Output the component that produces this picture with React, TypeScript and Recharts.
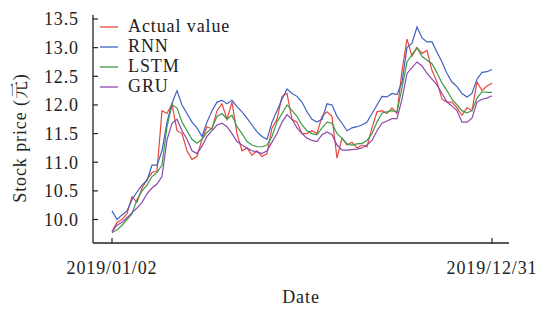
import { LineChart, Line, XAxis, YAxis } from 'recharts';

// one point every ~5 trading-day pixels
const actualValue = [
  9.79, 9.95, 10.0, 10.1, 10.4, 10.3, 10.55, 10.7, 10.82, 10.85,
  11.9, 11.85, 12.02, 11.55, 11.5, 11.2, 11.05, 11.1, 11.4, 11.62,
  11.58, 11.9, 12.02, 11.75, 12.05, 11.5, 11.2, 11.25, 11.12, 11.2,
  11.1, 11.15, 11.6, 11.75, 12.15, 12.2, 11.75, 11.7, 11.5, 11.5,
  11.55, 11.5, 11.8, 11.88, 11.8, 11.07, 11.42, 11.3, 11.35, 11.25,
  11.3, 11.27, 11.6, 11.88, 11.9, 11.85, 11.95, 11.85, 12.6, 13.15,
  12.85, 13.0, 12.9, 12.95, 12.6, 12.4, 12.1, 12.05, 12.05, 11.95,
  11.82, 11.95, 11.9, 12.4, 12.25, 12.33, 12.38,
];
const rnn = [
  10.15, 10.0, 10.08, 10.15, 10.35, 10.48, 10.6, 10.68, 10.95, 10.95,
  11.2, 11.7, 12.03, 12.25, 12.0, 11.85, 11.7, 11.6, 11.45, 11.7,
  11.9, 12.05, 12.08, 12.02, 12.08, 11.97, 11.88, 11.77, 11.65, 11.53,
  11.45, 11.4, 11.7, 11.9, 12.1, 12.28, 12.2, 12.15, 12.05, 11.88,
  11.75, 11.7, 11.75, 12.02, 12.0, 11.8, 11.68, 11.55, 11.6, 11.62,
  11.65, 11.7, 11.85, 12.0, 12.15, 12.14, 12.2, 12.18, 12.4, 13.0,
  13.08, 13.36, 13.17, 13.1, 13.1, 12.92, 12.75, 12.55, 12.4, 12.32,
  12.2, 12.14, 12.2, 12.45, 12.57, 12.58, 12.62,
];
const lstm = [
  9.77, 9.82, 9.9, 10.0, 10.1, 10.35, 10.5, 10.6, 10.75, 10.82,
  10.95, 11.62, 12.0, 11.95, 11.7, 11.55, 11.4, 11.33, 11.4, 11.52,
  11.6, 11.8, 11.85, 11.75, 11.82, 11.62, 11.5, 11.36, 11.3, 11.27,
  11.27, 11.3, 11.45, 11.7, 11.85, 12.0, 11.9, 11.8, 11.65, 11.55,
  11.5, 11.48, 11.6, 11.7, 11.68, 11.5, 11.42, 11.32, 11.3, 11.32,
  11.33, 11.38, 11.5, 11.7, 11.86, 11.88, 11.9, 11.88, 12.3, 12.75,
  12.88, 13.0, 12.85, 12.78, 12.72, 12.56, 12.38, 12.25, 12.1, 12.0,
  11.9, 11.86, 11.9, 12.12, 12.23, 12.22, 12.22,
];
const gru = [
  9.79, 9.9, 9.95, 10.03, 10.12, 10.2, 10.3, 10.45, 10.55, 10.62,
  10.75, 11.39, 11.68, 11.75, 11.55, 11.4, 11.2, 11.15, 11.28, 11.45,
  11.55, 11.65, 11.68, 11.62, 11.5, 11.36, 11.3, 11.25, 11.2, 11.18,
  11.15, 11.2, 11.35, 11.5, 11.7, 11.83, 11.75, 11.6, 11.5, 11.42,
  11.38, 11.36, 11.48, 11.53, 11.48, 11.3, 11.21, 11.21, 11.22, 11.23,
  11.25, 11.3, 11.38, 11.55, 11.68, 11.72, 11.76, 11.76, 12.1, 12.55,
  12.65, 12.75, 12.68, 12.55, 12.45, 12.35, 12.2, 12.05, 11.98, 11.9,
  11.7, 11.7, 11.77, 12.05, 12.1, 12.12, 12.16,
];

const xTicks = [0, 76];
const xTickLabels = ['2019/01/02', '2019/12/31'];
const yTicks = [10.0, 10.5, 11.0, 11.5, 12.0, 12.5, 13.0, 13.5];

const seriesKeys = ['actual', 'rnn', 'lstm', 'gru'];
const seriesNames = ['Actual value', 'RNN', 'LSTM', 'GRU'];
const seriesColors = ['#e8463c', '#4160c0', '#3e9a4a', '#8a48b0'];

const X_DOMAIN: [number, number] = [-3.8, 79.4];
const Y_DOMAIN: [number, number] = [9.59, 13.57];

const FONT = '"Liberation Serif", "Times New Roman", "Noto Serif CJK SC", "Noto Sans CJK SC", serif';
const INK = '#222';

const data = actualValue.map((v, i) => ({
  i,
  actual: v,
  rnn: rnn[i],
  lstm: lstm[i],
  gru: gru[i],
}));

const tickStyle = { fontSize: 18, fill: INK, fontFamily: FONT, letterSpacing: 0.9 };

function LegendBox() {
  return (
    <div
      style={{
        position: 'absolute',
        left: 98,
        top: 16,
        fontFamily: FONT,
        fontSize: 18,
        letterSpacing: 0.9,
        color: INK,
        pointerEvents: 'none',
      }}
    >
      {seriesNames.map((name, k) => (
        <div key={name} style={{ display: 'flex', alignItems: 'center', height: 20, lineHeight: '20px' }}>
          <svg width={30} height={20} style={{ display: 'block' }}>
            <line x1={2} x2={20} y1={11} y2={11} stroke={seriesColors[k]} strokeWidth={1.3} />
          </svg>
          <span>{name}</span>
        </div>
      ))}
    </div>
  );
}

export default function App() {
  return (
    <div style={{ position: 'absolute', left: 0, top: 0, width: 536, height: 309, background: '#fff' }}>
      <LineChart width={536} height={309} data={data} margin={{ top: 15, right: 27, left: 0, bottom: 0 }}>
        <XAxis
          dataKey="i"
          type="number"
          domain={X_DOMAIN}
          ticks={xTicks}
          interval={0}
          allowDataOverflow
          tickFormatter={(v: number) => xTickLabels[xTicks.indexOf(v)] ?? ''}
          height={66}
          axisLine={{ stroke: INK, strokeWidth: 1.3 }}
          tickSize={-5}
          tickMargin={23}
          tickLine={{ stroke: INK, strokeWidth: 1.2 }}
          tick={tickStyle}
          label={{
            content: () => (
              <text x={301} y={303} textAnchor="middle" fontSize={18} fill={INK} fontFamily={FONT} letterSpacing={0.9}>
                Date
              </text>
            ),
          }}
        />
        <XAxis
          xAxisId="top"
          orientation="top"
          dataKey="i"
          type="number"
          domain={X_DOMAIN}
          allowDataOverflow
          height={0}
          tick={false}
          tickLine={false}
          axisLine={{ stroke: INK, strokeWidth: 1.3 }}
        />
        <YAxis
          type="number"
          domain={Y_DOMAIN}
          ticks={yTicks}
          interval={0}
          allowDataOverflow
          width={93}
          axisLine={{ stroke: INK, strokeWidth: 1.3 }}
          tickSize={-5}
          tickMargin={19}
          tickLine={{ stroke: INK, strokeWidth: 1.2 }}
          tickFormatter={(v: number) => v.toFixed(1)}
          tick={tickStyle}
          label={{
            content: () => (
              <text
                x={26}
                y={138}
                textAnchor="middle"
                fontSize={18}
                fill={INK}
                fontFamily={FONT}
                letterSpacing={0.9}
                transform="rotate(-90, 26, 138)"
              >
                Stock price (元)
              </text>
            ),
          }}
        />
        <YAxis
          yAxisId="right"
          orientation="right"
          type="number"
          domain={Y_DOMAIN}
          allowDataOverflow
          width={0}
          tick={false}
          tickLine={false}
          axisLine={{ stroke: INK, strokeWidth: 1.3 }}
        />
        {seriesKeys.map((key, k) => (
          <Line
            key={key}
            dataKey={key}
            name={seriesNames[k]}
            stroke={seriesColors[k]}
            strokeWidth={1.2}
            dot={false}
            isAnimationActive={false}
          />
        ))}
      </LineChart>
      <LegendBox />
    </div>
  );
}
